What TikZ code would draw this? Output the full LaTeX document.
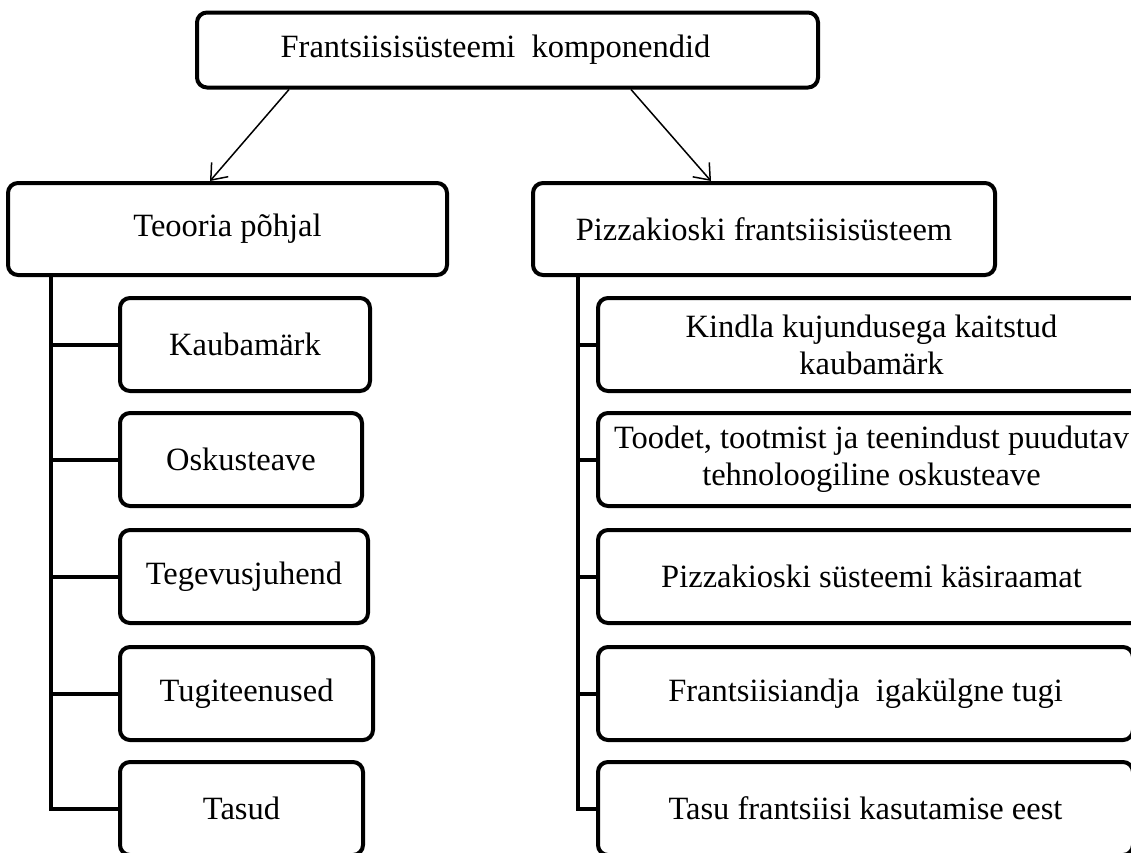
\documentclass[tikz,border=0pt]{standalone}
\usepackage{fontspec}
\setmainfont{Liberation Serif}
\usetikzlibrary{arrows.meta,calc}
\begin{document}
\begin{tikzpicture}[x=1pt,y=-1pt,
  box/.style={draw,line width=4pt,rounded corners=10pt,align=center,inner sep=0pt,
    font=\fontsize{32.5}{37}\selectfont},
  conn/.style={line width=4pt},
  arr/.style={line width=1.5pt,-{Straight Barb[length=14pt,width=22pt,line width=1.5pt]}}]
\useasboundingbox (0,0) rectangle (1131,852);
% top
\node[box,minimum width=621pt,minimum height=75pt] (top) at (507.5,50) {Frantsiisisüsteemi\ \ komponendid\hspace*{24pt}};
% middle
\node[box,minimum width=439pt,minimum height=92pt] (lm) at (227.5,229) {Teooria põhjal};
\node[box,minimum width=462pt,minimum height=92pt] (rm) at (764,229) {Pizzakioski frantsiisisüsteem};
% arrows
\draw[arr] ($(top.south west)+(94,0)$) -- ($(lm.north west)+(204,0)$);
\draw[arr] ($(top.south west)+(436,0)$) -- ($(rm.north west)+(180,0)$);
% left children
\node[box,minimum width=250pt,minimum height=93pt] (l1) at (245,344.5) {Kaubamärk};
\node[box,minimum width=242pt,minimum height=93pt] (l2) at (241,459.5) {Oskusteave};
\node[box,minimum width=248pt,minimum height=93pt] (l3) at (244,576.5) {Tegevusjuhend};
\node[box,minimum width=253pt,minimum height=93pt] (l4) at (246.5,693.5) {Tugiteenused};
\node[box,minimum width=243pt,minimum height=93pt] (l5) at (241.5,808.5) {Tasud};
% right children
\node[box,minimum width=547pt,minimum height=93pt] (r1) at (871.5,344.5) {Kindla kujundusega kaitstud\\kaubamärk};
\node[box,minimum width=547pt,minimum height=93pt] (r2) at (871.5,459.5) {Toodet, tootmist ja teenindust puudutav\\tehnoloogiline oskusteave};
\node[box,minimum width=547pt,minimum height=93pt] (r3) at (871.5,576.5) {Pizzakioski süsteemi käsiraamat};
\node[box,minimum width=535pt,minimum height=93pt] (r4) at (865.5,693.5) {Frantsiisiandja\ \ igakülgne tugi};
\node[box,minimum width=535pt,minimum height=93pt] (r5) at (865.5,808.5) {Tasu frantsiisi kasutamise eest};
% trunks
\coordinate (ltr) at ($(lm.south west)+(45,0)$);
\coordinate (rtr) at ($(rm.south west)+(47,0)$);
\draw[conn] (ltr) |- (l5.west);
\draw[conn] (rtr) |- (r5.west);
\foreach \i in {1,...,4}{
  \draw[conn] (ltr |- l\i.west) -- (l\i.west);
  \draw[conn] (rtr |- r\i.west) -- (r\i.west);
}
\end{tikzpicture}
\end{document}
